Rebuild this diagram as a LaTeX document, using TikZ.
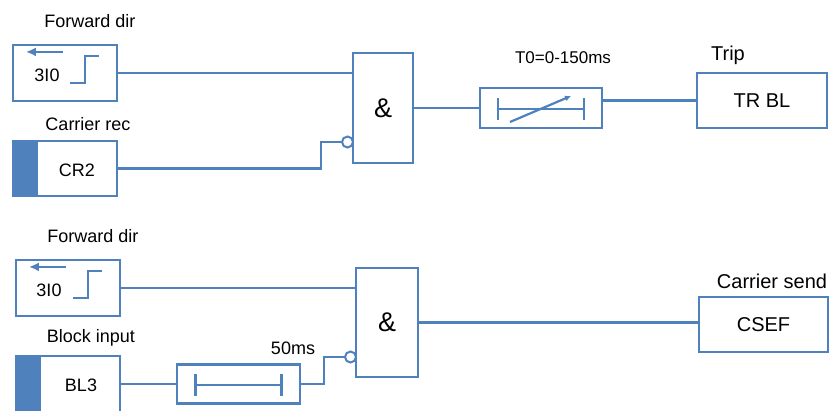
\documentclass[tikz,border=0pt]{standalone}
\usepackage{fontspec}
\setmainfont{Liberation Sans}
\usetikzlibrary{arrows.meta}
\definecolor{lineblue}{RGB}{79,129,189}
\tikzset{
  box/.style  = {rectangle, draw=lineblue, line width=2.2pt, inner sep=0pt},
  wire/.style = {draw=lineblue, line width=2.2pt},
  notc/.style = {circle, draw=lineblue, line width=2pt, fill=white,
                 minimum size=11pt, inner sep=0pt},
  lbl/.style  = {font=\fontsize{18}{21}\selectfont},
  big/.style  = {font=\fontsize{20}{24}\selectfont},
  amp/.style  = {font=\fontsize{27}{30}\selectfont}
}

\begin{document}
\begin{tikzpicture}[x=1pt, y=-1pt]
	\useasboundingbox (0,0) rectangle (834,410);
	\def \boxw{104}  % width of input boxes
	\def \filw{26}   % filled part of binary inputs
	
	% Upper path (trip)
	\node[lbl] (fwdlbl1) at (90,21) {Forward dir};
	\node[box, minimum width=\boxw, minimum height=56] (fwd1) at (65,73) {};
	\node[lbl] (ilbl1) at (47,75) {3I0};
	\node[lbl] (crlbl) at (88,124) {Carrier rec};
	\node[box, minimum width=\boxw, minimum height=55] (cr2) at (65,168.5) {};
	\fill[lineblue] (cr2.north west) rectangle ([xshift=\filw pt]cr2.south west);
	\node[lbl] (cr2lbl) at (77,170) {CR2};
	\node[box, amp, minimum width=60, minimum height=110] (and1) at (383,108) {\&};
	\node[notc] (nb1) at (347.5,142) {};
	\node[box, minimum width=122, minimum height=40] (t1) at (541,108) {};
	\node[lbl, font=\fontsize{17}{20}\selectfont] (t1lbl) at (563,58) {T0=0-150ms};
	\node[big] (triplbl) at (728,55) {Trip};
	\node[box, big, minimum width=130, minimum height=55] (trbl) at (762,100.5) {TR BL};
	
	% Lower path (carrier send)
	\node[lbl] (fwdlbl2) at (93,236) {Forward dir};
	\node[box, minimum width=\boxw, minimum height=56] (fwd2) at (68,288) {};
	\node[lbl] (ilbl2) at (49,290) {3I0};
	\node[lbl] (blklbl) at (91,338) {Block input};
	\node[box, minimum width=\boxw, minimum height=56] (bl3) at (68,384) {};
	\fill[lineblue] (bl3.north west) rectangle ([xshift=\filw pt]bl3.south west);
	\node[lbl] (bl3lbl) at (81,385) {BL3};
	\node[box, minimum width=123, minimum height=39] (t2) at (238.5,384) {};
	\node[lbl] (t2lbl) at (293,348) {50ms};
	\node[box, amp, minimum width=62, minimum height=109] (and2) at (387,322.5) {\&};
	\node[notc] (nb2) at (350.5,357) {};
	\node[big] (cslbl) at (772,281) {Carrier send};
	\node[box, big, minimum width=129, minimum height=55] (csef) at (763.5,324.5) {CSEF};
	
	% Direction symbol
	\foreach \b in {fwd1,fwd2} {
		\draw[wire, -{Latex[length=10pt,width=9pt]}] ([shift={(51,8)}]\b.north west) -- ([shift={(14,8)}]\b.north west);
		\draw[wire] ([shift={(58,39)}]\b.north west) -| ([shift={(73,12)}]\b.north west) -- ([shift={(87,12)}]\b.north west);
	}
	
	% Timer symbols
	\foreach \t in {t1,t2} {
		\draw[wire] ([shift={(-43,-10)}]\t.center) -- ([shift={(-43,12)}]\t.center);
		\draw[wire] ([shift={(43,-10)}]\t.center) -- ([shift={(43,12)}]\t.center);
		\draw[wire] ([shift={(-43,1)}]\t.center) -- ([shift={(43,1)}]\t.center);
	}
	\draw[wire, -{Latex[length=6pt,width=6pt]}] ([shift={(-31,14)}]t1.center) -- ([shift={(30,-12)}]t1.center); % variable
	
	% Connections
	\coordinate (k1) at (321,142);
	\coordinate (k2) at (324,357);
	\draw[wire] (fwd1.east) -- (fwd1.east -| and1.west);
	\draw[wire] (cr2.east) -| (k1) -- (nb1.west);
	\draw[wire] (and1.east) -- (t1.west);
	\draw[wire] (t1.east |- trbl.west) -- (trbl.west);
	\draw[wire] (fwd2.east) -- (fwd2.east -| and2.west);
	\draw[wire] (bl3.east) -- (t2.west);
	\draw[wire] (t2.east) -| (k2) -- (nb2.west);
	\draw[wire] (and2.east) -- (and2.east -| csef.west);
	
\end{tikzpicture}
\end{document}
